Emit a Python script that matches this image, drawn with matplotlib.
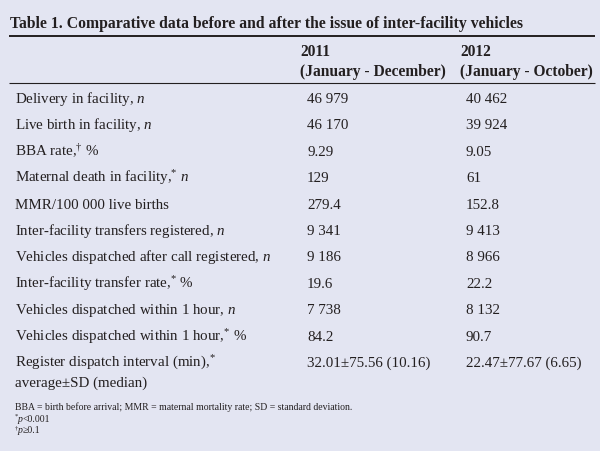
import matplotlib.pyplot as plt

plt.rcParams['font.family'] = ['Liberation Serif', 'DejaVu Serif']
plt.rcParams['mathtext.fontset'] = 'custom'
plt.rcParams['mathtext.rm'] = 'Liberation Serif'
plt.rcParams['mathtext.it'] = 'Liberation Serif:italic'
plt.rcParams['mathtext.bf'] = 'Liberation Serif:bold'

title = "Table 1. Comparative data before and after the issue of inter-facility vehicles"
headers = [["2011", "(January - December)"], ["2012", "(January - October)"]]

row_labels = [
    r"Delivery in facility, $\mathit{n}$",
    r"Live birth in facility, $\mathit{n}$",
    r"BBA rate,$^{\dagger}$ %",
    r"Maternal death in facility,$^{*}$ $\mathit{n}$",
    "MMR/100 000 live births",
    r"Inter-facility transfers registered, $\mathit{n}$",
    r"Vehicles dispatched after call registered, $\mathit{n}$",
    r"Inter-facility transfer rate,$^{*}$ %",
    r"Vehicles dispatched within 1 hour, $\mathit{n}$",
    r"Vehicles dispatched within 1 hour,$^{*}$ %",
    r"Register dispatch interval (min),$^{*}$" + "\naverage±SD (median)",
]
values_2011 = ["46 979", "46 170", "9.29", "129", "279.4", "9 341", "9 186",
               "19.6", "7 738", "84.2", "32.01±75.56 (10.16)"]
values_2012 = ["40 462", "39 924", "9.05", "61", "152.8", "9 413", "8 966",
               "22.2", "8 132", "90.7", "22.47±77.67 (6.65)"]

# footnotes: (superscript mark, italic part, rest)
footnotes = [
    ("", "", "BBA = birth before arrival; MMR = maternal mortality rate; SD = standard deviation."),
    ("*", "p", "<0.001"),
    ("†", "p", "≥0.1"),
]

bg = '#e3e5f2'
fig = plt.figure(figsize=(6, 4.51), dpi=100, facecolor=bg)
ax = fig.add_axes([0, 0, 1, 1])
ax.set_xlim(0, 600)
ax.set_ylim(451, 0)
ax.axis('off')
ax.set_facecolor(bg)

txt = '#231f20'

# title and rules
ax.text(10, 28.5, title, fontsize=11.3, fontweight='bold', color=txt, va='baseline', ha='left')
ax.plot([9, 595], [35.5, 35.5], color=txt, lw=1.4, solid_capstyle='butt')
ax.plot([9, 595], [83, 83], color=txt, lw=0.8, solid_capstyle='butt')

# column headers
col_x = [300, 460]
for x, (h1, h2) in zip(col_x, headers):
    ax.text(x, 56.5, h1, fontsize=11.2, fontweight='bold', color=txt, va='baseline')
    ax.text(x, 76.5, h2, fontsize=11.2, fontweight='bold', color=txt, va='baseline')

# body
y0 = 103
step = 26.4
for i, (lab, v1, v2) in enumerate(zip(row_labels, values_2011, values_2012)):
    y = y0 + i * step
    for k, line in enumerate(lab.split("\n")):
        ax.text(15, y + k * 20, line, fontsize=10.8, color=txt, va='baseline')
    ax.text(307, y, v1, fontsize=10.8, color=txt, va='baseline')
    ax.text(466, y, v2, fontsize=10.8, color=txt, va='baseline')

# footnotes
for k, (mark, ital, rest) in enumerate(footnotes):
    y = 410 + k * 11.6
    x = 15
    if mark:
        ax.text(x, y - 3.5, mark, fontsize=4.8, color=txt, va='baseline')
        x += 3
    if ital:
        ax.text(x, y, ital, fontsize=7, style='italic', color=txt, va='baseline')
        x += 4.5
    ax.text(x, y, rest, fontsize=7, color=txt, va='baseline')

fig.savefig('out.png', dpi=100, facecolor=bg)
